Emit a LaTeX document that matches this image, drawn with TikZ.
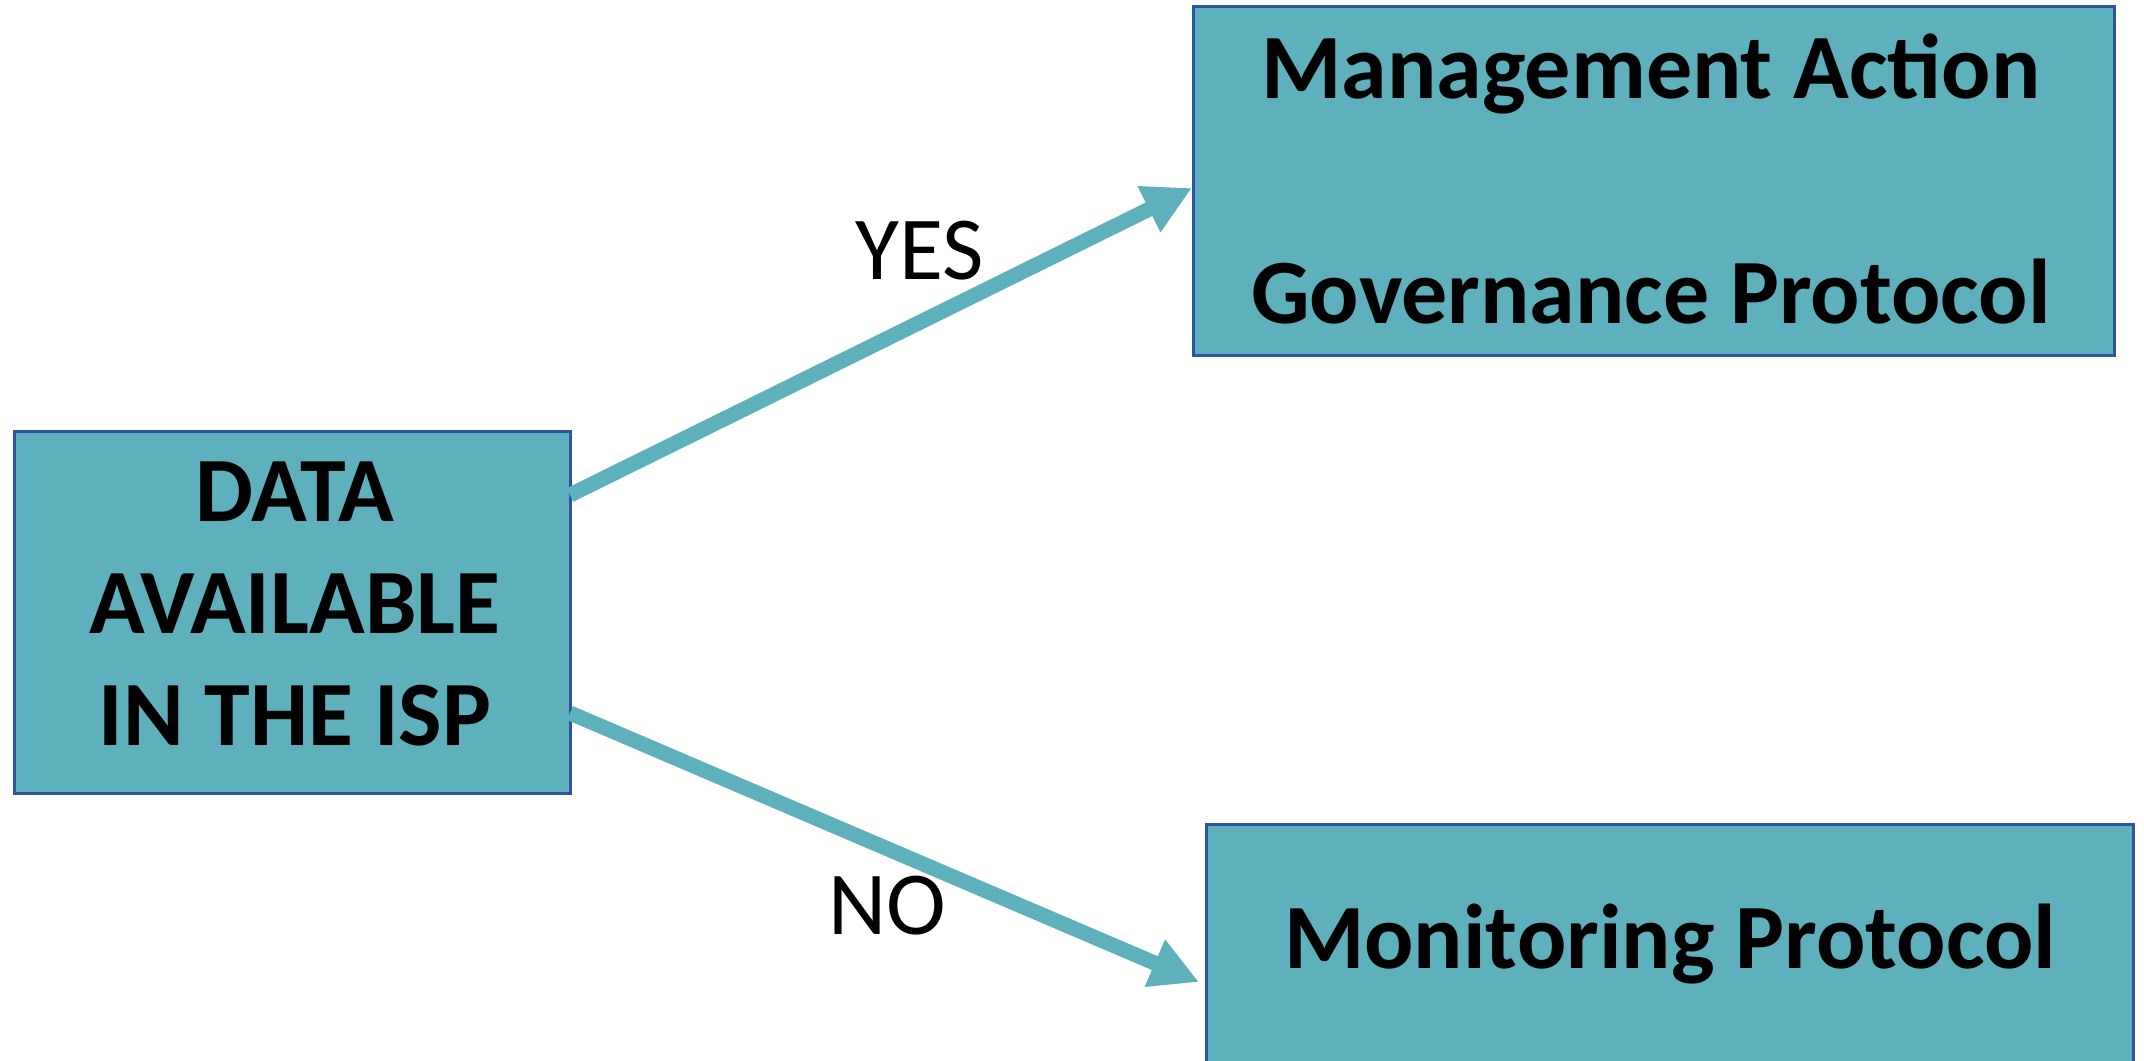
\documentclass[tikz,border=0pt]{standalone}
\usepackage{fontspec}
\setmainfont{Carlito}
\usetikzlibrary{arrows.meta}
\definecolor{boxfill}{HTML}{5EB0BC}
\definecolor{boxline}{HTML}{2E55A2}
\tikzset{
  box/.style={draw=boxline, fill=boxfill, line width=1.5pt, inner sep=0pt, outer sep=0pt},
  btxt/.style={anchor=base, inner sep=0pt, font=\fontsize{46}{55}\selectfont\bfseries},
  rtxt/.style={anchor=base, inner sep=0pt, font=\fontsize{45}{54}\selectfont},
  arr/.style={draw=boxfill, line width=7.5pt, -{Triangle[length=24pt 0 0, width=24pt 0 0]}, color=boxfill}
}
\begin{document}
\begin{tikzpicture}[x=0.5pt, y=-0.5pt]
\useasboundingbox (0,0) rectangle (2144,1061);
% boxes
\node[box, minimum width=278pt, minimum height=181pt] (isp) at (292,612) {};
\node[box, minimum width=460.5pt, minimum height=174.5pt] (mag) at (1653.5,180.5) {};
\node[box, minimum width=463.5pt, minimum height=128pt] (mon) at (1669.5,952) {};
% texts
\node[btxt] (t1) at (295,521) {DATA};
\node[btxt] (t2) at (295,633) {AVAILABLE};
\node[btxt] (t3) at (295,745) {IN THE ISP};
\node[btxt] (t4) at (1651,98) {Management Action};
\node[btxt] (t5) at (1651,323) {Governance Protocol};
\node[btxt] (t6) at (1670,968) {Monitoring Protocol};
\node[rtxt] (yes) at (920,279) {YES};
\node[rtxt] (no) at (887,934) {NO};
% connectors
\coordinate (ys) at (570,495);
\coordinate (ye) at (1192,188);
\coordinate (ns) at (570,713);
\coordinate (ne) at (1199,982);
\draw[arr] (ys) -- (ye);
\draw[arr] (ns) -- (ne);
\end{tikzpicture}
\end{document}
